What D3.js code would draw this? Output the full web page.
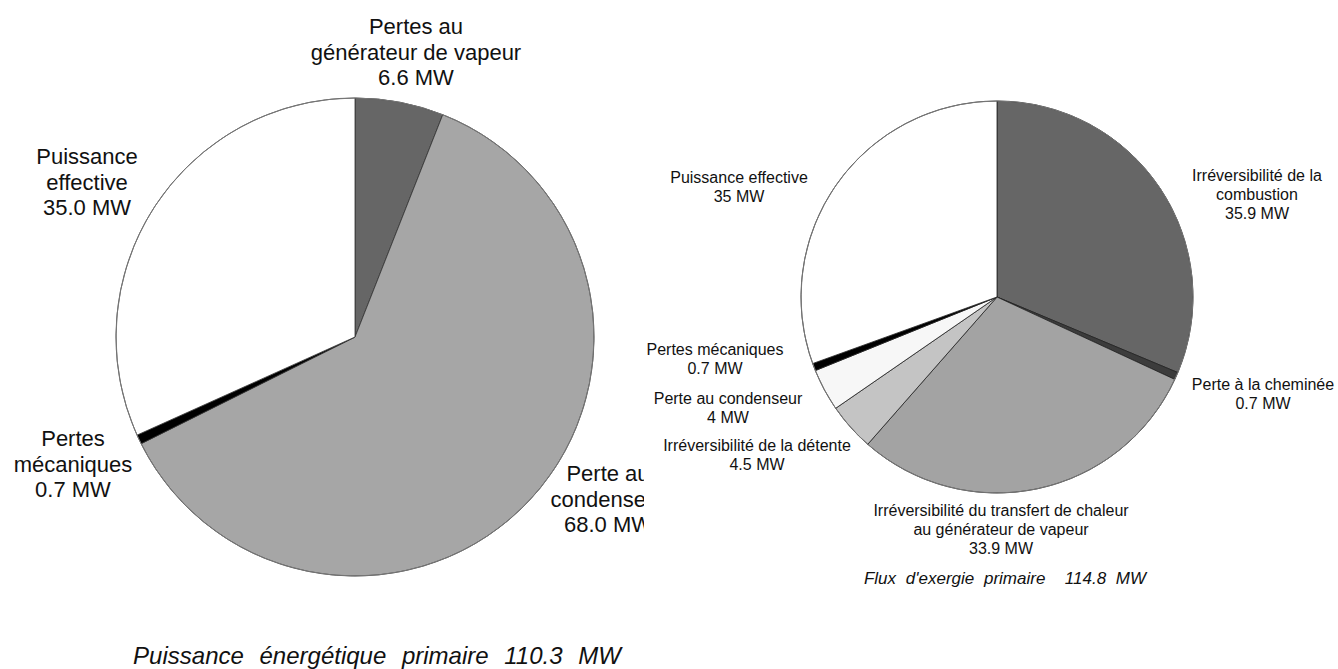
<!DOCTYPE html>
<html><head><meta charset="utf-8">
<script src="https://cdn.jsdelivr.net/npm/d3@7"></script>
<style>
html,body{margin:0;padding:0;background:#fff;}
svg{display:block;}
text{font-family:"Liberation Sans",Arial,sans-serif;fill:#111;}
</style></head>
<body>
<svg id="c" width="1338" height="669"></svg>
<script>
// ---- Data: left chart (energy) ----
const leftCategories = ["Pertes au générateur de vapeur", "Perte au condenseur", "Pertes mécaniques", "Puissance effective"];
const leftValues = [6.6, 68.0, 0.7, 35.0];
const leftColors = ["#666666", "#a6a6a6", "#000000", "#ffffff"];
const leftLabels = [
  ["Pertes au", "générateur de vapeur", "6.6 MW"],
  ["Perte au", "condenseur", "68.0 MW"],
  ["Pertes", "mécaniques", "0.7 MW"],
  ["Puissance", "effective", "35.0 MW"]
];
const leftTitle = "Puissance énergétique primaire 110.3 MW";

// ---- Data: right chart (exergy) ----
const rightCategories = ["Irréversibilité de la combustion", "Perte à la cheminée", "Irréversibilité du transfert de chaleur au générateur de vapeur", "Irréversibilité de la détente", "Perte au condenseur", "Pertes mécaniques", "Puissance effective"];
const rightValues = [35.9, 0.7, 33.9, 4.5, 4.0, 0.7, 35.0];
const rightColors = ["#666666", "#3c3c3c", "#a3a3a3", "#c4c4c4", "#f7f7f7", "#000000", "#ffffff"];
const rightLabels = [
  ["Irréversibilité de la", "combustion", "35.9 MW"],
  ["Perte à la cheminée", "0.7 MW"],
  ["Irréversibilité du transfert de chaleur", "au générateur de vapeur", "33.9 MW"],
  ["Irréversibilité de la détente", "4.5 MW"],
  ["Perte au condenseur", "4 MW"],
  ["Pertes mécaniques", "0.7 MW"],
  ["Puissance effective", "35 MW"]
];
const rightTitle = "Flux d'exergie primaire  114.8 MW";

const svg = d3.select("#c");
svg.append("defs").append("clipPath").attr("id", "leftClip")
  .append("rect").attr("x", 0).attr("y", 0).attr("width", 644).attr("height", 669);

const pie = d3.pie().sort(null).startAngle(0).endAngle(2 * Math.PI);

function drawPie(g, values, colors, r, stroke) {
  const arc = d3.arc().innerRadius(0).outerRadius(r);
  g.selectAll("path.slice").data(pie(values)).join("path")
    .attr("class", "slice")
    .attr("d", arc)
    .attr("fill", (d, i) => colors[i])
    .attr("stroke", stroke)
    .attr("stroke-width", 0.8)
    .attr("stroke-linejoin", "round");
  g.append("circle").attr("r", r).attr("fill", "none").attr("stroke", "#777").attr("stroke-width", 1);
}

function drawLabel(g, lines, x, y, size, lh) {
  const t = g.append("text").attr("x", x).attr("y", y)
    .attr("text-anchor", "middle").attr("font-size", size);
  lines.forEach((l, i) => {
    t.append("tspan").attr("x", x).attr("dy", i === 0 ? 0 : lh).text(l);
  });
}

// ---- Left chart ----
const gl = svg.append("g").attr("clip-path", "url(#leftClip)");
const gpl = gl.append("g").attr("transform", "translate(355,337)");
drawPie(gpl, leftValues, leftColors, 239, "#333");
const leftPos = [[416, 34], [608, 481], [73, 446], [87, 164]];
leftLabels.forEach((lines, i) => drawLabel(gl, lines, leftPos[i][0], leftPos[i][1], 22, 25.7));
gl.append("text").attr("x", 377).attr("y", 664).attr("text-anchor", "middle")
  .attr("font-size", 24).attr("font-style", "italic").attr("word-spacing", 9).text(leftTitle);

// ---- Right chart ----
const gr = svg.append("g");
const gpr = gr.append("g").attr("transform", "translate(997,297)");
drawPie(gpr, rightValues, rightColors, 196, "#222");
const rightPos = [[1257, 181], [1263, 390], [1001, 516], [757, 451], [728, 404], [715, 355], [739, 183]];
rightLabels.forEach((lines, i) => drawLabel(gr, lines, rightPos[i][0], rightPos[i][1], 16, 19));
gr.append("text").attr("x", 1005).attr("y", 584).attr("text-anchor", "middle")
  .attr("font-size", 17).attr("font-style", "italic").attr("word-spacing", 5)
  .style("white-space", "pre").text(rightTitle);
</script>
</body></html>
